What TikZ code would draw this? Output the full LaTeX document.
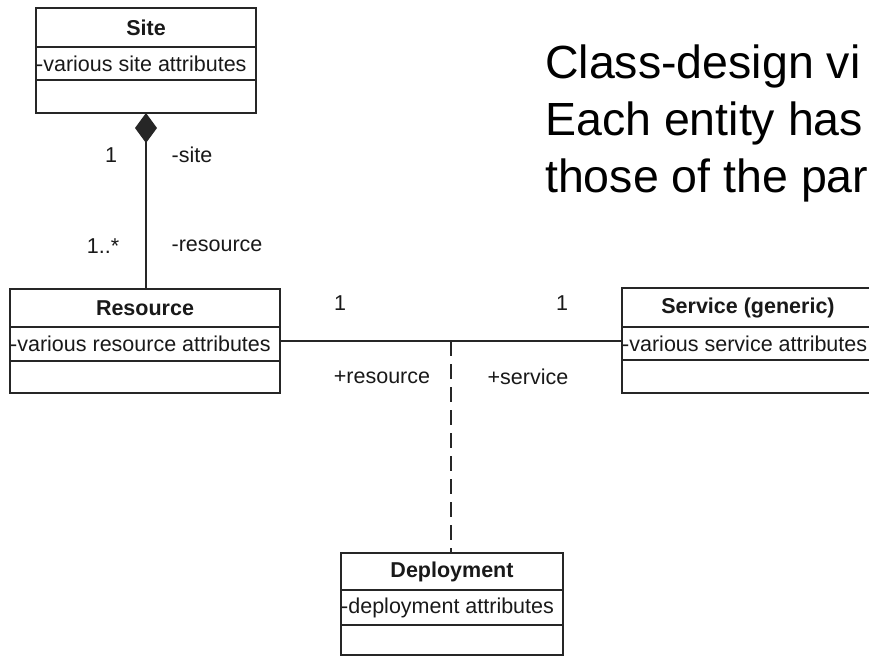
\documentclass[tikz,border=0pt]{standalone}
\usepackage{fontspec}
\setmainfont{Liberation Sans}
\usetikzlibrary{arrows.meta,calc}

% One UML class: name, left, right, top, divider 1, divider 2, bottom, header, attribute
\newcommand\umlclass[9]{%
  \node[classbox, minimum width={#3-#2}, minimum height={#7-#4}]
    (#1) at ({(#2+#3)/2},{(#4+#7)/2}) {};
  \draw[umlline] (#2,#5) -- (#3,#5);
  \draw[umlline] (#2,#6) -- (#3,#6);
  \node[hdr] (#1-h) at ({(#2+#3)/2},{(#4+#5)/2}) {#8};
  \node[attr] (#1-a) at (#2,{(#5+#6)/2}) {#9};
}

\begin{document}
\begin{tikzpicture}[x=1pt,y=-1pt,
  umlline/.style={draw=black!85, line width=1.7pt},
  classbox/.style={umlline, rectangle, inner sep=0pt, outer sep=0pt},
  lbl/.style={font=\fontsize{21.5}{25}\selectfont, inner sep=0pt, text=black!90},
  hdr/.style={font=\fontsize{21.5}{25}\selectfont\bfseries, inner sep=0pt, text=black!90},
  attr/.style={lbl, anchor=west},
  title/.style={font=\fontsize{46.5}{57}\selectfont, inner sep=0pt, anchor=base west},
  dependency/.style={umlline, dash pattern=on 15pt off 8pt},
]
\useasboundingbox (0,0) rectangle (869,657);
\clip (0,0) rectangle (869,657);
\fill[white] (0,0) rectangle (869,657);

% classes
\umlclass{site}{36}{256}{8}{47}{80}{113}{Site}{-various site attributes}
\umlclass{res}{10}{280}{289}{327}{361}{393}{Resource}{-various resource attributes}
\umlclass{svc}{622}{874}{288}{327}{360}{393}{Service (generic)}{-various service attributes}
\umlclass{dep}{341}{563}{553}{590}{625}{655}{Deployment}{-deployment attributes}

% composition Site <>-- Resource
\draw[umlline, {Diamond[length=30pt,width=22pt]}-]
  (site.south) -- (site.south |- res.north);

% association Resource -- Service with its association class
\draw[umlline] (res.east) -- (res.east -| svc.west);
\coordinate (assoc) at ($(res.east)!0.5!(res.east -| svc.west)$);
\draw[dependency] (assoc) -- (assoc |- dep.north);

% role names and multiplicities
\node[lbl] (m-site) at (111,155) {1};
\node[lbl] (r-site) at (192,155) {-site};
\node[lbl] (m-res) at (103,246) {1..*};
\node[lbl] (r-res) at (217,246) {-resource};
\node[lbl] (m-res2) at (340,303) {1};
\node[lbl] (m-svc) at (562,303) {1};
\node[lbl] (r-res2) at (382,377) {+resource};
\node[lbl] (r-svc) at (528,377) {+service};

% heading text
\node[title] (t1) at (545,78) {Class-design vi};
\node[title] (t2) at (545,135) {Each entity has};
\node[title] (t3) at (545,192) {those of the par};
\end{tikzpicture}
\end{document}
